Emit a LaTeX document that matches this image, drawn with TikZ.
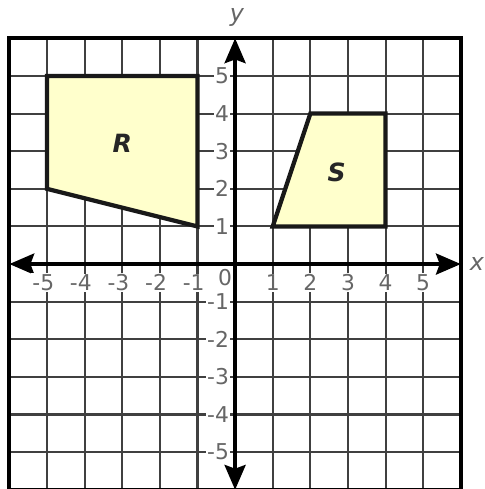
\documentclass[tikz,border=0pt]{standalone}
\usepackage{fontspec}
\setmainfont{DejaVu Sans}
\usetikzlibrary{arrows.meta}
\definecolor{regfill}{HTML}{FFFFCC}
\begin{document}
\begin{tikzpicture}[x=1cm,y=1cm,
  gridline/.style={black!75, line width=1.6pt},
  frame/.style={black, line width=3pt},
  axis/.style={black, line width=2.6pt, {Stealth[length=0.66cm,width=0.56cm,inset=0.1cm]}-{Stealth[length=0.66cm,width=0.56cm,inset=0.1cm]}},
  region/.style={fill=regfill, draw=black!90, line width=3.2pt, line join=miter},
  ticklab/.style={fill=white, inner sep=1pt, text=black!60, font=\fontsize{16.5}{18}\selectfont},
  axlab/.style={inner sep=1pt, text=black!60, font=\fontsize{18}{20}\selectfont\itshape},
  shapelab/.style={text=black!85, font=\fontsize{19}{21}\selectfont\bfseries\itshape}
]
\useasboundingbox (-6.25,-5.98) rectangle (6.62,7.02);
% grid
\foreach \k in {-5,...,5} {
  \draw[gridline] (\k,-6) -- (\k,6);
  \draw[gridline] (-6,\k) -- (6,\k);
}
% regions
\draw[region] (-5,5) coordinate (r1) -- (-1,5) coordinate (r2) -- (-1,1) coordinate (r3) -- (-5,2) coordinate (r4) -- cycle;
\draw[region] (1,1) coordinate (s1) -- (2,4) coordinate (s2) -- (4,4) coordinate (s3) -- (4,1) coordinate (s4) -- cycle;
\node[shapelab] (R) at (-3,3.2) {R};
\node[shapelab] (S) at (2.7,2.45) {S};
% frame
\draw[frame] (-6,-6) rectangle (6,6);
% axes
\coordinate (xa) at (-6,0);
\coordinate (xb) at (6,0);
\coordinate (ya) at (0,-6);
\coordinate (yb) at (0,6);
\draw[axis] (xa) -- (xb);
\draw[axis] (ya) -- (yb);
% tick labels
\foreach \k in {1,...,5} {
  \node[ticklab] (xp\k) at (\k,-0.5) {\k};
  \node[ticklab] (xn\k) at (-\k-0.1,-0.5) {-\k};
  \node[ticklab, anchor=east] (yp\k) at (-0.12,\k) {\k};
  \node[ticklab, anchor=east] (yn\k) at (-0.12,-\k) {-\k};
}
\node[ticklab] (zero) at (-0.27,-0.36) {0};
\node[axlab] (xlab) at (6.43,0) {x};
\node[axlab] (ylab) at (0.05,6.55) {y};
\end{tikzpicture}
\end{document}
